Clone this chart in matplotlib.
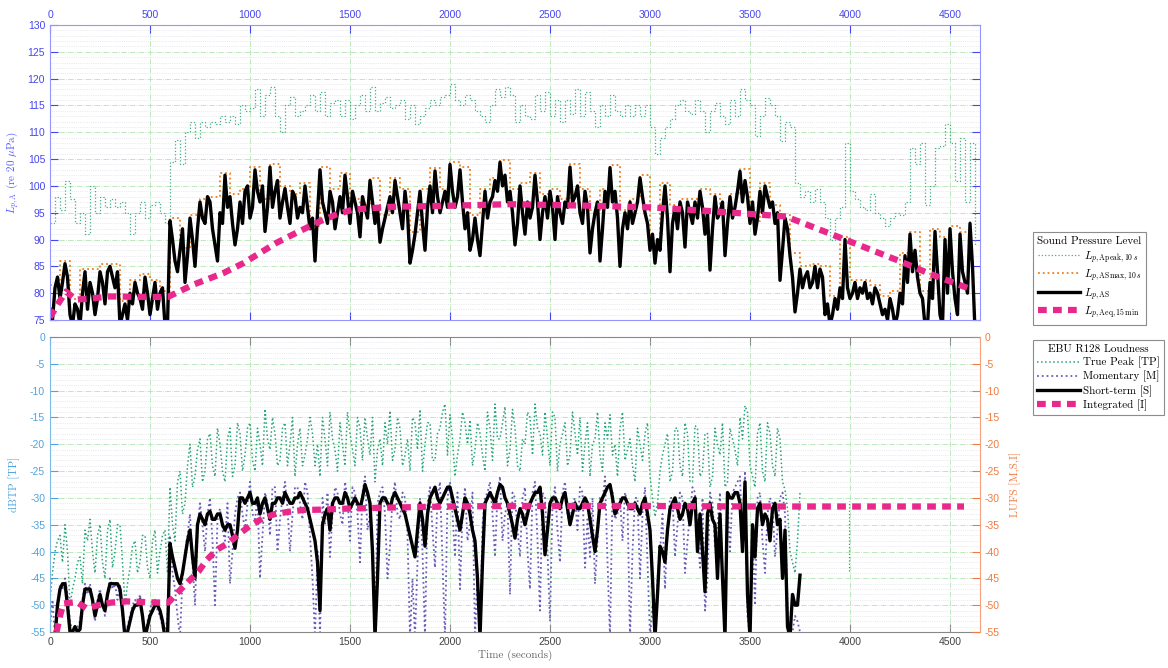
import numpy as np
import matplotlib
matplotlib.use('Agg')
import matplotlib.pyplot as plt
from matplotlib.lines import Line2D
from matplotlib.ticker import MultipleLocator

plt.rcParams['font.family'] = ['Liberation Sans', 'DejaVu Sans']
plt.rcParams['mathtext.fontset'] = 'cm'
plt.rcParams['axes.unicode_minus'] = False

# ---------------- data ----------------
STEP = 25      # seconds between samples; *_mid lists sit half a step later
STEP_MAX = 50  # seconds between ASmax samples

# Sound pressure level, dB(A) re 20 uPa, samples every 25 s from t=0
lp_apeak = [93, 98, 95.5, 101, 97.5, 93, 95, 91, 100, 95, 98, 96, 97.5, 96, 97, 95, 91, 95, 97, 94, 96.5, 97, 95, 93,
            104.5, 108.5, 104, 110, 112, 109, 112, 111, 112, 111.5, 113, 112, 113, 111.5, 115, 114, 114.5, 118, 113,
            117, 118.5, 113, 110, 115, 116.5, 113, 114,
            115, 117, 114, 117.5, 113, 115.5, 116, 113, 116, 112.5, 115,
            117, 114, 118.5, 114, 115.5, 116.5, 114.5, 115, 116, 112.5, 115, 111.5, 113, 114.5, 116, 115, 116.5, 117,
            119, 116, 115, 117, 116, 114, 113, 112, 115, 118, 116.5, 118.5, 117, 112, 115, 113, 112.5, 117, 114, 117.5,
            113, 116, 112, 116, 113.5, 118, 113, 117.5, 114, 111, 115, 113, 117, 114, 113, 115, 113, 115, 113, 115, 111,
            106, 109, 111,
            112.5, 115, 116, 114, 113.5, 116, 114, 110, 114, 115.5, 113, 111.5, 116, 113, 118, 116, 115, 109.3, 113,
            116.4, 115, 113, 108.3, 112, 111, 100.5, 98, 99, 97, 99.5, 97, 94, 90, 94, 96, 108, 99, 97.5, 96, 95.5, 98.5,
            95, 94, 92.5, 94, 95, 94.5, 97, 107, 104, 108, 96.5, 100, 107, 107.5, 111.5, 108, 101, 109, 97, 108, 89]

lp_as = [77, 81, 79, 85.5, 76, 78, 74, 84, 82, 76, 84, 78, 85, 81, 74, 78, 80, 82, 79, 83, 76, 82, 80, 74,
         93.5, 86, 88, 82, 94, 85, 97, 93, 97, 89, 95, 102, 98, 89, 97, 99, 94, 103, 97, 91.5, 103.5, 99, 94, 99.5,
         93, 98, 96,
         100, 92, 86, 103, 95, 99, 92, 98, 102, 93, 97,
         90.5, 96, 101, 93, 89.5, 94, 98, 101, 95, 99, 85.6, 91, 99, 88, 100, 102.8, 95, 99, 104, 96, 103, 92, 88, 94,
         87, 99, 97, 101, 104.4, 102, 99, 89, 100, 91, 94, 102, 90, 98, 99, 90, 95, 97, 103.5, 98, 95, 99, 87.5, 95,
         86, 99, 103.4, 99, 85, 95, 97, 95, 101.5, 95, 88, 85.6, 88, 100,
         84, 96, 97, 88.6, 95, 97, 99, 91, 84.3, 98, 95, 87, 98, 96, 102.7, 101, 93, 91, 99, 100, 96, 93, 82.4, 94, 87,
         76.5, 84.5, 83, 81, 85, 84.5, 76, 74, 79, 81, 90, 79, 82, 81, 82, 80, 81, 78, 77, 79, 74, 80, 87, 91, 88, 80,
         74, 82, 91.5, 76, 90, 92, 79, 91, 82, 93, 73]
lp_as_mid = [75, 83, 82, 83, 74, 77, 80, 77, 80, 79, 82, 84, 83, 84, 76, 75, 78, 80, 77, 80, 79, 77, 81, 74,
             90, 84, 92, 87, 90, 92, 94, 98, 92, 86, 93, 96, 93, 92, 93, 100, 96, 99, 100, 96, 96, 101, 97, 96, 99,
             94, 95, 96, 94, 95, 97, 93, 97, 95, 95, 98, 99, 95,
             98, 94, 97, 96, 92, 96, 95, 98, 92, 95, 88, 95, 93, 96, 95, 98, 97, 96, 99, 98, 97, 95, 90, 90, 93, 94,
             98, 99, 100, 97, 95, 93, 95, 97, 96, 97, 95, 94, 96, 98, 93, 96, 97, 100, 93, 96, 92, 97, 92, 96, 97, 94,
             92, 92, 93, 97, 98, 93, 91, 90, 95,
             94, 93, 92, 95, 97, 93, 94, 96, 95, 92, 94, 97, 93, 94, 99, 97, 98, 97, 94, 95, 98, 97, 95, 88, 92, 83,
             80, 81, 84, 82, 81, 83, 78, 76, 77, 79, 81, 80, 79, 80, 79, 78, 80, 76, 75, 77, 76, 78, 82, 84, 83, 79,
             74, 79, 84, 74, 80, 84, 76, 84, 80, 85]

# ASmax, 10 s, samples every 50 s
lp_asmax = [81.5, 86, 79, 84.5, 84.5, 85.5, 85.5, 78.5, 82.5, 83.5, 82.5, 80.5, 94, 88.5, 94.5, 97.5, 98, 102.5,
            98.5, 99.5, 103.5, 97.5, 104, 100, 98.5, 100.5, 92.5, 103.5, 99.5, 102.5, 97.5, 96.5, 101.5, 94.5, 101.5,
            99.5, 91.5, 99.5, 103.3, 99.5, 104.5, 103.5, 94.5, 99.5, 101.5, 104.9, 99.5, 100.5, 102.5, 98.5, 99.5,
            97.5, 104, 99.5, 95.5, 99.5, 103.9, 95.5, 97.5, 102, 88.5, 100.5, 96.5, 97.5, 97.5, 99.5, 98.5, 95.5, 98.5,
            103.2, 93.5, 100.5, 96.5, 94.5, 87.5, 85, 85.5, 85, 79.5, 90.5, 82.5, 82.5, 81.5, 79.5, 80.5, 87.5, 91.5,
            80.5, 92, 90.5, 92.5, 91.5, 93.5]

leq_time = [0, 40, 80, 130, 200, 300, 450, 590, 717, 867, 967, 1133, 1250, 1350, 1433, 1517, 1700, 2000, 2300,
            2700, 3000, 3300, 3680, 3900, 4240, 4400, 4600]
lp_aeq = [75.5, 78, 80.3, 78.8, 79, 79.4, 79.3, 79.3, 81.6, 83.75, 85.6, 89.4, 91.6, 93.4, 94.7, 95.6, 96.1, 96.3,
          96.6, 96.3, 96, 95.3, 94.3, 91.1, 86.1, 83.6, 80.8]

# EBU R128, samples every 25 s from t=0
true_peak = [-49, -40, -37, -35, -50, -45, -41, -36, -34, -44, -35, -45, -34, -40, -35, -50, -43, -38, -42, -37,
             -45, -36, -40, -36,
             -28, -38, -25, -31, -20, -26, -19, -25, -18, -26, -20, -27, -17, -24, -18, -22, -16, -25, -20, -13.4,
             -21, -18, -23, -16, -20,
             -26, -17, -22, -15, -24, -26, -19, -14, -21, -16, -24, -18, -24,
             -17, -15, -22, -27, -19, -16, -13.75, -21, -17, -22, -25, -16, -13.5, -20, -16, -23, -17, -12.5, -14.5,
             -26, -19, -16, -15.5, -21, -18, -25, -17, -12.5, -19, -13, -21, -17, -25, -20, -15, -12.5, -18, -14, -24,
             -15, -20, -16, -22, -18, -15, -20, -26, -19, -22, -16, -14.5, -20, -17, -23, -19, -27, -20, -18, -26,
             -33.5, -25, -20,
             -27, -17, -24, -16, -27, -16.5, -26, -18, -28, -17, -22, -28, -17, -21, -15, -12.8, -24, -28, -16, -27,
             -18, -26, -19, -28.5, -40, -44, -29]
true_peak_mid = [-44, -38, -42, -40, -47, -42, -46, -38, -40, -37, -42, -36, -43, -35, -42, -46, -39, -44, -37, -43,
                 -38, -44, -37, -44,
                 -35, -27, -33, -24, -28, -21, -27, -19, -24, -17, -25, -19, -26, -16, -25, -17, -23, -17, -24, -19,
                 -15, -24, -17, -24,
                 -15, -20, -24, -19, -18, -20, -15, -24, -19, -25, -20, -14, -21, -15,
                 -23, -19, -15, -21, -24, -20, -23, -15, -24, -19, -15, -21, -25, -16, -23, -18, -14, -22, -19, -22,
                 -14, -20, -24, -16, -22, -14, -23, -19, -16, -24, -13.5, -24, -19, -14, -22, -17, -22, -19, -14, -25,
                 -18, -24, -14, -22, -25, -16, -20, -14, -25, -19, -22, -26, -14, -21, -24, -17, -23, -16, -30, -31,
                 -22,
                 -18, -25, -17, -26, -18, -27, -17, -25, -18, -26, -20, -16, -27, -19, -24, -19, -14, -26, -18, -25,
                 -16, -24, -17, -27, -32, -42, -38]
tp_blip_time = [3997, 3997]
tp_blip = [-43.7, -30.6]

momentary = [-54, -56, -46, -45, -53, -56, -53, -46, -46, -53, -47, -52, -45, -46, -46, -56, -52, -49, -48, -56,
             -51, -49, -52, -56,
             -37, -47, -56, -40, -33, -50, -31, -40, -30, -50, -32, -38, -46, -33, -29, -36, -27, -34, -45, -29, -37,
             -28, -34, -27, -40,
             -28, -31, -27, -37, -56, -56, -35, -41, -28, -33, -27, -38, -29,
             -42, -26, -33, -56, -29, -33, -39, -27, -34, -30, -56, -56, -30, -56, -28, -43, -27, -56, -27, -41, -47,
             -28, -35, -56, -56, -30, -27, -41, -26, -33, -48, -30, -41, -28, -47, -27, -51, -30, -53, -28, -42, -27,
             -35, -30, -28, -43, -41, -46, -30, -26, -56, -34, -30, -29, -56, -30, -45, -28, -56, -56, -40, -47,
             -30, -41, -29, -44, -33, -29, -43, -51, -29, -39, -29, -56, -40, -28, -26, -25, -56, -50, -29, -44, -30,
             -41, -30, -33, -56, -52, -55]
momentary_mid = [-49, -52, -47, -48, -55, -54, -49, -48, -50, -49, -50, -48, -47, -49, -52, -54, -50, -50, -52, -53,
                 -49, -51, -54, -52,
                 -44, -52, -45, -37, -42, -36, -35, -33, -38, -34, -36, -31, -40, -30, -33, -31, -33, -30, -37, -31,
                 -28, -40, -30, -32,
                 -33, -28, -34, -29, -45, -40, -30, -29, -33, -29, -35, -30, -28, -33,
                 -29, -36, -41, -31, -28, -45, -30, -33, -29, -37, -45, -42, -40, -31, -36, -30, -42, -30, -33, -29,
                 -33, -38, -29, -44, -35, -29, -33, -29, -38, -31, -29, -36, -30, -40, -29, -38, -29, -40, -31, -36,
                 -29, -33, -31, -36, -29, -34, -30, -38, -31, -42, -29, -33, -38, -31, -40, -30, -33, -42, -50, -45,
                 -33,
                 -36, -30, -35, -30, -38, -28, -36, -30, -45, -31, -35, -45, -30, -29, -27, -40, -52, -36, -30, -38,
                 -33, -31, -36, -29, -50, -55, -53]

short_term = [-56, -56, -47, -46, -55, -54, -54.5, -47, -47, -52, -48, -51, -46, -46, -47, -56, -53, -50, -49, -56,
              -52, -50, -51, -56,
              -38.5, -43, -46, -41, -36, -45, -33, -35, -32.5, -34, -33, -36, -35, -39.4, -30, -31, -29, -31, -33,
              -30, -34, -31, -30, -29, -31,
              -30, -29, -31, -34, -38, -51, -33, -36, -30, -31, -29, -32, -30,
              -32, -27.5, -31, -56, -31, -30, -32, -29, -31, -33, -37, -41, -31, -39, -30, -28, -31, -29, -28, -32,
              -36, -30, -33, -38, -56, -31, -29, -31, -27.5, -30, -33, -37.5, -32, -35, -31, -29, -28, -40.6, -31,
              -30, -32, -29, -35, -31, -32, -30, -34, -40, -31, -29, -27.5, -33, -31, -30, -32, -31, -33, -30, -36,
              -56, -39, -42,
              -32, -30, -34, -31, -35, -30, -33, -47.5, -31, -35, -33, -56, -30, -29, -31, -27, -56, -41, -31, -33,
              -38, -31, -34, -36, -56, -50, -44.4]
short_term_mid = [-56, -50, -46, -50, -55, -55, -50, -47, -49, -50, -50, -48, -46, -46, -51, -55, -51, -50, -52, -54,
                  -51, -50, -53, -56,
                  -41, -45, -44, -38, -41, -35, -34, -33, -34, -33, -35, -35, -37, -36, -30, -30, -31, -30, -31, -32,
                  -31, -30, -31, -30,
                  -31, -30, -30, -32, -36, -42, -35, -32, -31, -30, -31, -30, -31, -31,
                  -30, -29, -40, -45, -30, -31, -30, -30, -32, -35, -39, -36, -34, -33, -29, -30, -30, -28, -30, -34,
                  -33, -31, -36, -45, -42, -30, -30, -29, -28, -31, -35, -34, -33, -33, -30, -29, -33, -36, -30, -31,
                  -30, -32, -33, -32, -31, -31, -37, -36, -30, -28, -30, -32, -30, -31, -32, -32, -31, -33, -45, -48,
                  -40,
                  -36, -31, -32, -33, -32, -31, -40, -40, -33, -34, -45, -45, -29, -30, -29, -40, -48, -35, -32, -35,
                  -34, -32, -35, -45, -54, -48, -50]

int_time = [33, 50, 67, 133, 183, 242, 308, 383, 458, 533, 592, 642, 692, 742, 783, 833, 892, 950, 1008, 1067,
            1125, 1192, 1267, 1342, 1417, 1483, 1700, 2000, 2300, 2600, 3000, 3500, 4000, 4570]
integrated = [-55, -52, -49.7, -49.4, -50.6, -50, -49.5, -49.3, -49.4, -49.5, -49.5, -47.5, -45.6, -43.75, -41.6,
              -39.7, -38.4, -36.6, -35, -33.75, -33, -32.6, -32.25, -32.2, -32.1, -32, -31.8, -31.6, -31.5, -31.5,
              -31.5, -31.6, -31.6, -31.6]


def merge(on_step, mid_step):
    # put the half-step samples between the full-step ones
    vals = np.empty(len(on_step) + len(mid_step))
    vals[0::2] = on_step
    vals[1::2] = mid_step
    return STEP / 2 * np.arange(len(vals)), vals


t_spl = STEP * np.arange(len(lp_apeak))
t_max = STEP_MAX * np.arange(len(lp_asmax))
t_as, as_all = merge(lp_as, lp_as_mid)
t_tp, tp_all = merge(true_peak, true_peak_mid)
t_m, m_all = merge(momentary, momentary_mid)
t_s, s_all = merge(short_term, short_term_mid)

# ---------------- figure ----------------
W, H = 1168, 668
fig = plt.figure(figsize=(W / 100, H / 100), dpi=100)
ax1 = fig.add_axes([50 / W, 1 - 320 / H, 930 / W, 295 / H])
ax2 = fig.add_axes([50 / W, 1 - 632 / H, 930 / W, 295 / H])

c_blue = '#4646f0'
c_lblue = '#4fa3dc'
c_orange = '#f07a40'
c_pink = '#e8288a'
serif = {'family': 'cmr10', 'size': 8}

# top panel
ax1.plot(t_spl, lp_apeak, ls=':', lw=0.9, color='#3fb085', drawstyle='steps-post',
         label=r'$L_{p,\mathrm{Apeak},10\,s}$')
ax1.plot(t_max, lp_asmax, ls=':', lw=1.3, color='#f07c1c', drawstyle='steps-post',
         label=r'$L_{p,\mathrm{ASmax},10\,s}$')
ax1.plot(t_as, as_all, '-', lw=2.4, color='black', label=r'$L_{p,\mathrm{AS}}$')
ax1.plot(leq_time, lp_aeq, lw=4.5, color=c_pink, dashes=(1.4, 1.0),
         label=r'$L_{p,\mathrm{Aeq},15\,\mathrm{min}}$')

# bottom panel
ax2.plot(t_tp, tp_all, ls=':', lw=1.1, color='#27a478', label='True Peak [TP]')
ax2.plot(tp_blip_time, tp_blip, ls=':', lw=0.9, color='#27a478')
ax2.plot(t_m, m_all, ls=':', lw=1.3, color='#6a5db8', label='Momentary [M]')
ax2.plot(t_s, s_all, '-', lw=2.4, color='black', label='Short-term [S]')
ax2.plot(int_time, integrated, lw=4.5, color=c_pink, dashes=(1.4, 1.0), label='Integrated [I]')

for ax in (ax1, ax2):
    ax.set_xlim(0, 4650)
    ax.set_xticks(np.arange(0, 4501, 500))
    ax.yaxis.set_minor_locator(MultipleLocator(1))
    ax.grid(which='major', ls='-.', lw=0.6, color='#b4e4b4')
    ax.grid(which='minor', axis='y', ls=':', lw=0.5, color='#d9d9e6')
    ax.tick_params(which='minor', length=0)
    ax.set_axisbelow(True)

ax1.set_ylim(75, 130)
ax1.set_yticks(np.arange(75, 131, 5))
ax1.tick_params(axis='both', which='major', direction='in', length=6, labelsize=7.5,
                colors=c_blue, top=True, bottom=True, left=True, right=True,
                labeltop=True, labelbottom=False)
for sp in ax1.spines.values():
    sp.set_color('#9595ff')
ax1.set_ylabel(r'$L_{p,\mathrm{A}}$ (re 20 $\mu$Pa)', color='#5a5aff', fontdict=serif, labelpad=5)

ax2.set_ylim(-55, 0)
ax2.set_yticks(np.arange(-55, 1, 5))
ax2.tick_params(axis='x', which='major', direction='in', length=6, labelsize=7.5,
                color='#888888', labelcolor='#444444', top=True, bottom=True)
ax2.tick_params(axis='y', which='major', direction='in', length=6, labelsize=7.5,
                colors=c_lblue, left=True, right=False)
ax2.spines['left'].set_color('#7db9e6')
ax2.spines['top'].set_color('#888888')
ax2.spines['bottom'].set_color('#888888')
ax2.spines['right'].set_visible(False)
ax2.set_ylabel('dBTP [TP]', color=c_lblue, fontdict=serif, labelpad=7)
ax2.set_xlabel('Time (seconds)', color='#666666', fontdict=serif, labelpad=2)

ax3 = ax2.twinx()
ax3.set_ylim(-55, 0)
ax3.set_yticks(np.arange(-55, 1, 5))
ax3.tick_params(axis='y', direction='in', length=6, labelsize=7.5, colors=c_orange)
for side in ('left', 'top', 'bottom'):
    ax3.spines[side].set_visible(False)
ax3.spines['right'].set_color('#f5a27c')
ax3.set_ylabel('LUFS [M,S,I]', color=c_orange, fontdict=serif, labelpad=7)

# legends outside on the right
leg_kw = dict(loc='upper left', prop=serif, title_fontproperties=serif, frameon=True, fancybox=False,
              edgecolor='#8c8c8c', framealpha=1, handlelength=3.8, borderaxespad=0, labelspacing=0.25,
              handletextpad=0.3, borderpad=0.4)
h1, l1 = ax1.get_legend_handles_labels()
leg1 = fig.legend(h1, l1, bbox_to_anchor=(1033 / W, 1 - 232 / H), title='Sound Pressure Level', **leg_kw)
h2, l2 = ax2.get_legend_handles_labels()
leg2 = fig.legend(h2, l2, bbox_to_anchor=(1033 / W, 1 - 340 / H), title='EBU R128 Loudness', **leg_kw)

# MATLAB style rule under each legend title
fig.canvas.draw()
inv = fig.transFigure.inverted()
for leg in (leg1, leg2):
    leg.get_frame().set_linewidth(0.8)
    bb = leg.get_window_extent()
    tb = leg.get_title().get_window_extent()
    y = tb.y0 - 3
    (x0, y0), (x1, _) = inv.transform([(bb.x0, y), (bb.x1, y)])
    fig.add_artist(Line2D([x0, x1], [y0, y0], transform=fig.transFigure, color='#8c8c8c', lw=0.8))

fig.savefig('out.png', dpi=100)
